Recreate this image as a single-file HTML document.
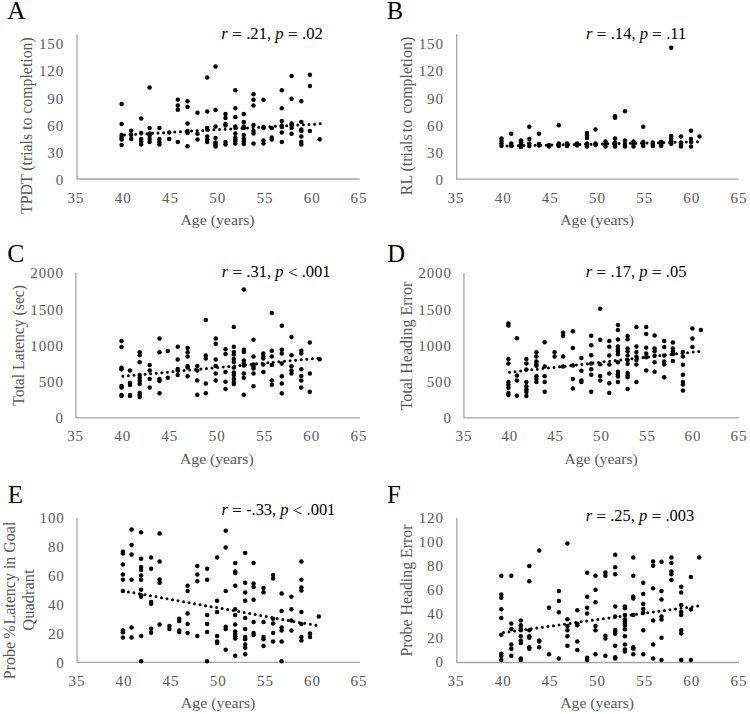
<!DOCTYPE html><html><head><meta charset="utf-8"><style>html,body{margin:0;padding:0;background:#fff;width:750px;height:714px;overflow:hidden}svg{display:block}text{font-family:"Liberation Serif",serif}</style></head><body>
<svg width="750" height="714" viewBox="0 0 750 714">
<rect width="750" height="714" fill="#fff"/>
<path d="M77.0 34.3V179.0H359.8" fill="none" stroke="#a6a6a6" stroke-width="1.3" stroke-linejoin="round"/>
<text id="Ay150" transform="translate(64.10,49.25) scale(1.0000,1)" font-size="15" fill="#595959" text-anchor="end"  letter-spacing="0.9">150</text>
<text id="Ay120" transform="translate(64.10,76.43) scale(1.0000,1)" font-size="15" fill="#595959" text-anchor="end"  letter-spacing="0.9">120</text>
<text id="Ay90" transform="translate(64.10,103.61) scale(1.0000,1)" font-size="15" fill="#595959" text-anchor="end"  letter-spacing="0.9">90</text>
<text id="Ay60" transform="translate(64.10,130.79) scale(1.0000,1)" font-size="15" fill="#595959" text-anchor="end"  letter-spacing="0.9">60</text>
<text id="Ay30" transform="translate(64.10,157.97) scale(1.0000,1)" font-size="15" fill="#595959" text-anchor="end"  letter-spacing="0.9">30</text>
<text id="Ay0" transform="translate(64.10,185.15) scale(1.0000,1)" font-size="15" fill="#595959" text-anchor="end"  letter-spacing="0.9">0</text>
<text id="Ax0" transform="translate(75.95,202.90) scale(1.0000,1)" font-size="15" fill="#595959" text-anchor="middle"  letter-spacing="0.9">35</text>
<text id="Ax1" transform="translate(123.25,202.90) scale(1.0000,1)" font-size="15" fill="#595959" text-anchor="middle"  letter-spacing="0.9">40</text>
<text id="Ax2" transform="translate(170.45,202.90) scale(1.0000,1)" font-size="15" fill="#595959" text-anchor="middle"  letter-spacing="0.9">45</text>
<text id="Ax3" transform="translate(217.65,202.90) scale(1.0000,1)" font-size="15" fill="#595959" text-anchor="middle"  letter-spacing="0.9">50</text>
<text id="Ax4" transform="translate(264.95,202.90) scale(1.0000,1)" font-size="15" fill="#595959" text-anchor="middle"  letter-spacing="0.9">55</text>
<text id="Ax5" transform="translate(312.15,202.90) scale(1.0000,1)" font-size="15" fill="#595959" text-anchor="middle"  letter-spacing="0.9">60</text>
<text id="Ax6" transform="translate(358.95,202.90) scale(1.0000,1)" font-size="15" fill="#595959" text-anchor="middle"  letter-spacing="0.9">65</text>
<text id="Axt" transform="translate(217.50,224.80) scale(1.0542,1)" font-size="15" fill="#595959" text-anchor="middle" >Age (years)</text>
<text id="Ayt0" transform="translate(31.80,125.60) rotate(-90) scale(0.9888,1)" font-size="16" fill="#595959" text-anchor="middle">TPDT (trials to completion)</text>
<text id="AL" transform="translate(16.45,18.80) scale(0.9941,1)" font-size="25.5" fill="#000" text-anchor="middle" >A</text>
<text id="Aann" transform="translate(272.05,38.90) scale(1.0162,1)" font-size="16.4" fill="#000" text-anchor="middle" ><tspan font-style="italic">r</tspan> <tspan font-size="17.5" dy="1.3">=</tspan><tspan dy="-1.3"> .21, </tspan><tspan font-style="italic">p</tspan> <tspan font-size="17.5" dy="1.3">=</tspan><tspan dy="-1.3"> .02</tspan></text>
<line x1="124.5" y1="134.9" x2="321.0" y2="123.8" stroke="#000" stroke-width="3" stroke-linecap="round" stroke-dasharray="0 5.6"/>
<g fill="#000"><circle cx="121.6" cy="104.1" r="2.25"/><circle cx="121.6" cy="124" r="2.25"/><circle cx="121.6" cy="135" r="2.25"/><circle cx="121.6" cy="137.5" r="2.25"/><circle cx="121.6" cy="139.5" r="2.25"/><circle cx="121.6" cy="145" r="2.25"/><circle cx="131.2" cy="130.8" r="2.25"/><circle cx="131.2" cy="135" r="2.25"/><circle cx="131.2" cy="139" r="2.25"/><circle cx="141.2" cy="118.5" r="2.25"/><circle cx="141.2" cy="133" r="2.25"/><circle cx="141.2" cy="139" r="2.25"/><circle cx="141.2" cy="141.5" r="2.25"/><circle cx="141.2" cy="144.5" r="2.25"/><circle cx="149.6" cy="87.4" r="2.25"/><circle cx="149.6" cy="128" r="2.25"/><circle cx="149.6" cy="133.5" r="2.25"/><circle cx="149.6" cy="135.5" r="2.25"/><circle cx="149.6" cy="139" r="2.25"/><circle cx="149.6" cy="142" r="2.25"/><circle cx="159.4" cy="128" r="2.25"/><circle cx="159.4" cy="139" r="2.25"/><circle cx="159.4" cy="142" r="2.25"/><circle cx="159.4" cy="144.5" r="2.25"/><circle cx="169.2" cy="132.5" r="2.25"/><circle cx="169.2" cy="139" r="2.25"/><circle cx="177.8" cy="99.8" r="2.25"/><circle cx="177.8" cy="105.6" r="2.25"/><circle cx="177.8" cy="109.7" r="2.25"/><circle cx="177.8" cy="142" r="2.25"/><circle cx="187.5" cy="101.3" r="2.25"/><circle cx="187.5" cy="107" r="2.25"/><circle cx="187.5" cy="123.5" r="2.25"/><circle cx="187.5" cy="131" r="2.25"/><circle cx="187.5" cy="133" r="2.25"/><circle cx="187.5" cy="146.2" r="2.25"/><circle cx="197.5" cy="112.8" r="2.25"/><circle cx="197.5" cy="133.8" r="2.25"/><circle cx="197.5" cy="139.5" r="2.25"/><circle cx="207.2" cy="77.5" r="2.25"/><circle cx="207.2" cy="111.5" r="2.25"/><circle cx="207.2" cy="128" r="2.25"/><circle cx="207.2" cy="129.5" r="2.25"/><circle cx="207.2" cy="136.5" r="2.25"/><circle cx="207.2" cy="139.5" r="2.25"/><circle cx="207.2" cy="142" r="2.25"/><circle cx="215.5" cy="66.4" r="2.25"/><circle cx="215.5" cy="110" r="2.25"/><circle cx="215.5" cy="126.5" r="2.25"/><circle cx="215.5" cy="138" r="2.25"/><circle cx="215.5" cy="142.5" r="2.25"/><circle cx="215.5" cy="144.5" r="2.25"/><circle cx="215.5" cy="146.5" r="2.25"/><circle cx="225.5" cy="114" r="2.25"/><circle cx="225.5" cy="118" r="2.25"/><circle cx="225.5" cy="124" r="2.25"/><circle cx="225.5" cy="125.5" r="2.25"/><circle cx="225.5" cy="142" r="2.25"/><circle cx="225.5" cy="144.5" r="2.25"/><circle cx="235.3" cy="90.2" r="2.25"/><circle cx="235.3" cy="108.3" r="2.25"/><circle cx="235.3" cy="117" r="2.25"/><circle cx="235.3" cy="126.5" r="2.25"/><circle cx="235.3" cy="128" r="2.25"/><circle cx="235.3" cy="133.5" r="2.25"/><circle cx="235.3" cy="137.5" r="2.25"/><circle cx="235.3" cy="139.5" r="2.25"/><circle cx="235.3" cy="141.5" r="2.25"/><circle cx="235.3" cy="143.5" r="2.25"/><circle cx="243.8" cy="114" r="2.25"/><circle cx="243.8" cy="122" r="2.25"/><circle cx="243.8" cy="126.5" r="2.25"/><circle cx="243.8" cy="128" r="2.25"/><circle cx="243.8" cy="135" r="2.25"/><circle cx="243.8" cy="139" r="2.25"/><circle cx="243.8" cy="141.5" r="2.25"/><circle cx="243.8" cy="144" r="2.25"/><circle cx="253.5" cy="94.3" r="2.25"/><circle cx="253.5" cy="99.8" r="2.25"/><circle cx="253.5" cy="105.6" r="2.25"/><circle cx="253.5" cy="125" r="2.25"/><circle cx="253.5" cy="131" r="2.25"/><circle cx="253.5" cy="133.5" r="2.25"/><circle cx="253.5" cy="143.5" r="2.25"/><circle cx="263.5" cy="99.8" r="2.25"/><circle cx="263.5" cy="127" r="2.25"/><circle cx="263.5" cy="128" r="2.25"/><circle cx="263.5" cy="140.5" r="2.25"/><circle cx="263.5" cy="143.5" r="2.25"/><circle cx="271.8" cy="128" r="2.25"/><circle cx="271.8" cy="137.5" r="2.25"/><circle cx="271.8" cy="139.5" r="2.25"/><circle cx="281.8" cy="90.2" r="2.25"/><circle cx="281.8" cy="108.3" r="2.25"/><circle cx="281.8" cy="121" r="2.25"/><circle cx="281.8" cy="125.5" r="2.25"/><circle cx="281.8" cy="127" r="2.25"/><circle cx="281.8" cy="132.5" r="2.25"/><circle cx="281.8" cy="142" r="2.25"/><circle cx="291.6" cy="76.1" r="2.25"/><circle cx="291.6" cy="98.7" r="2.25"/><circle cx="291.6" cy="123.5" r="2.25"/><circle cx="291.6" cy="125" r="2.25"/><circle cx="291.6" cy="128" r="2.25"/><circle cx="291.6" cy="133.8" r="2.25"/><circle cx="301.3" cy="101.3" r="2.25"/><circle cx="301.3" cy="122" r="2.25"/><circle cx="301.3" cy="129.5" r="2.25"/><circle cx="301.3" cy="131" r="2.25"/><circle cx="301.3" cy="136.5" r="2.25"/><circle cx="301.3" cy="142" r="2.25"/><circle cx="301.3" cy="144.5" r="2.25"/><circle cx="309.9" cy="74.8" r="2.25"/><circle cx="309.9" cy="85.9" r="2.25"/><circle cx="309.9" cy="131" r="2.25"/><circle cx="319.7" cy="139.3" r="2.25"/></g>
<path d="M456.7 34.3V179.2H738.9" fill="none" stroke="#a6a6a6" stroke-width="1.3" stroke-linejoin="round"/>
<text id="By150" transform="translate(443.90,49.25) scale(1.0000,1)" font-size="15" fill="#595959" text-anchor="end"  letter-spacing="0.9">150</text>
<text id="By120" transform="translate(443.90,76.43) scale(1.0000,1)" font-size="15" fill="#595959" text-anchor="end"  letter-spacing="0.9">120</text>
<text id="By90" transform="translate(443.90,103.61) scale(1.0000,1)" font-size="15" fill="#595959" text-anchor="end"  letter-spacing="0.9">90</text>
<text id="By60" transform="translate(443.90,130.79) scale(1.0000,1)" font-size="15" fill="#595959" text-anchor="end"  letter-spacing="0.9">60</text>
<text id="By30" transform="translate(443.90,157.97) scale(1.0000,1)" font-size="15" fill="#595959" text-anchor="end"  letter-spacing="0.9">30</text>
<text id="By0" transform="translate(443.90,185.15) scale(1.0000,1)" font-size="15" fill="#595959" text-anchor="end"  letter-spacing="0.9">0</text>
<text id="Bx0" transform="translate(455.95,202.90) scale(1.0000,1)" font-size="15" fill="#595959" text-anchor="middle"  letter-spacing="0.9">35</text>
<text id="Bx1" transform="translate(503.25,202.90) scale(1.0000,1)" font-size="15" fill="#595959" text-anchor="middle"  letter-spacing="0.9">40</text>
<text id="Bx2" transform="translate(550.15,202.90) scale(1.0000,1)" font-size="15" fill="#595959" text-anchor="middle"  letter-spacing="0.9">45</text>
<text id="Bx3" transform="translate(597.45,202.90) scale(1.0000,1)" font-size="15" fill="#595959" text-anchor="middle"  letter-spacing="0.9">50</text>
<text id="Bx4" transform="translate(644.75,202.90) scale(1.0000,1)" font-size="15" fill="#595959" text-anchor="middle"  letter-spacing="0.9">55</text>
<text id="Bx5" transform="translate(691.75,202.90) scale(1.0000,1)" font-size="15" fill="#595959" text-anchor="middle"  letter-spacing="0.9">60</text>
<text id="Bx6" transform="translate(738.95,202.90) scale(1.0000,1)" font-size="15" fill="#595959" text-anchor="middle"  letter-spacing="0.9">65</text>
<text id="Bxt" transform="translate(597.10,224.80) scale(1.0510,1)" font-size="15" fill="#595959" text-anchor="middle" >Age (years)</text>
<text id="Byt0" transform="translate(411.70,116.00) rotate(-90) scale(0.9976,1)" font-size="16" fill="#595959" text-anchor="middle">RL (trials <tspan dx="-2">to</tspan><tspan dx="2"> completion)</tspan></text>
<text id="BL" transform="translate(394.95,18.80) scale(0.9669,1)" font-size="25.5" fill="#000" text-anchor="middle" >B</text>
<text id="Bann" transform="translate(636.15,38.90) scale(1.0102,1)" font-size="16.4" fill="#000" text-anchor="middle" ><tspan font-style="italic">r</tspan> <tspan font-size="17.5" dy="1.3">=</tspan><tspan dy="-1.3"> .14, </tspan><tspan font-style="italic">p</tspan> <tspan font-size="17.5" dy="1.3">=</tspan><tspan dy="-1.3"> .11</tspan></text>
<line x1="501.5" y1="146.1" x2="700.5" y2="141.8" stroke="#000" stroke-width="3" stroke-linecap="round" stroke-dasharray="0 5.6"/>
<g fill="#000"><circle cx="501.5" cy="138.5" r="2.25"/><circle cx="501.5" cy="141" r="2.25"/><circle cx="501.5" cy="143.5" r="2.25"/><circle cx="501.5" cy="146" r="2.25"/><circle cx="511.2" cy="133.7" r="2.25"/><circle cx="511.2" cy="143.5" r="2.25"/><circle cx="511.2" cy="146" r="2.25"/><circle cx="521.0" cy="140.5" r="2.25"/><circle cx="521.0" cy="142.5" r="2.25"/><circle cx="521.0" cy="145" r="2.25"/><circle cx="521.0" cy="147" r="2.25"/><circle cx="529.3" cy="126.7" r="2.25"/><circle cx="529.3" cy="139" r="2.25"/><circle cx="529.3" cy="143.5" r="2.25"/><circle cx="529.3" cy="146" r="2.25"/><circle cx="539.0" cy="133.7" r="2.25"/><circle cx="539.0" cy="144" r="2.25"/><circle cx="539.0" cy="145.5" r="2.25"/><circle cx="549.0" cy="145" r="2.25"/><circle cx="549.0" cy="146.5" r="2.25"/><circle cx="558.8" cy="125.2" r="2.25"/><circle cx="558.8" cy="143.5" r="2.25"/><circle cx="558.8" cy="146" r="2.25"/><circle cx="567.0" cy="143.5" r="2.25"/><circle cx="567.0" cy="146" r="2.25"/><circle cx="577.0" cy="143.5" r="2.25"/><circle cx="577.0" cy="145.5" r="2.25"/><circle cx="587.0" cy="133" r="2.25"/><circle cx="587.0" cy="135.5" r="2.25"/><circle cx="587.0" cy="138" r="2.25"/><circle cx="587.0" cy="143.5" r="2.25"/><circle cx="587.0" cy="146.5" r="2.25"/><circle cx="595.5" cy="129.5" r="2.25"/><circle cx="595.5" cy="143.5" r="2.25"/><circle cx="595.5" cy="145" r="2.25"/><circle cx="605.5" cy="141.5" r="2.25"/><circle cx="605.5" cy="144" r="2.25"/><circle cx="605.5" cy="146.5" r="2.25"/><circle cx="615.0" cy="116.3" r="2.25"/><circle cx="615.0" cy="117.8" r="2.25"/><circle cx="615.0" cy="138.5" r="2.25"/><circle cx="615.0" cy="142.5" r="2.25"/><circle cx="615.0" cy="145" r="2.25"/><circle cx="615.0" cy="146.5" r="2.25"/><circle cx="625.0" cy="111.3" r="2.25"/><circle cx="625.0" cy="140.5" r="2.25"/><circle cx="625.0" cy="144" r="2.25"/><circle cx="625.0" cy="146.5" r="2.25"/><circle cx="633.5" cy="141.5" r="2.25"/><circle cx="633.5" cy="144" r="2.25"/><circle cx="633.5" cy="146.5" r="2.25"/><circle cx="643.2" cy="126.8" r="2.25"/><circle cx="643.2" cy="142" r="2.25"/><circle cx="643.2" cy="144" r="2.25"/><circle cx="643.2" cy="146" r="2.25"/><circle cx="652.8" cy="142.5" r="2.25"/><circle cx="652.8" cy="144" r="2.25"/><circle cx="652.8" cy="146" r="2.25"/><circle cx="661.2" cy="142" r="2.25"/><circle cx="661.2" cy="144" r="2.25"/><circle cx="661.2" cy="146" r="2.25"/><circle cx="671.2" cy="47.8" r="2.25"/><circle cx="671.2" cy="136" r="2.25"/><circle cx="671.2" cy="138.5" r="2.25"/><circle cx="671.2" cy="141.2" r="2.25"/><circle cx="671.2" cy="143.8" r="2.25"/><circle cx="681.0" cy="136.5" r="2.25"/><circle cx="681.0" cy="142.5" r="2.25"/><circle cx="681.0" cy="145" r="2.25"/><circle cx="681.0" cy="146.5" r="2.25"/><circle cx="691.0" cy="130.8" r="2.25"/><circle cx="691.0" cy="139" r="2.25"/><circle cx="691.0" cy="142" r="2.25"/><circle cx="691.0" cy="146.5" r="2.25"/><circle cx="699.5" cy="136.5" r="2.25"/></g>
<path d="M75.9 272.9V417.9H359.8" fill="none" stroke="#a6a6a6" stroke-width="1.3" stroke-linejoin="round"/>
<text id="Cy2000" transform="translate(63.90,278.25) scale(1.0000,1)" font-size="15" fill="#595959" text-anchor="end"  letter-spacing="0.9">2000</text>
<text id="Cy1500" transform="translate(63.90,314.50) scale(1.0000,1)" font-size="15" fill="#595959" text-anchor="end"  letter-spacing="0.9">1500</text>
<text id="Cy1000" transform="translate(63.90,350.75) scale(1.0000,1)" font-size="15" fill="#595959" text-anchor="end"  letter-spacing="0.9">1000</text>
<text id="Cy500" transform="translate(63.90,387.00) scale(1.0000,1)" font-size="15" fill="#595959" text-anchor="end"  letter-spacing="0.9">500</text>
<text id="Cy0" transform="translate(63.90,423.25) scale(1.0000,1)" font-size="15" fill="#595959" text-anchor="end"  letter-spacing="0.9">0</text>
<text id="Cx0" transform="translate(75.55,441.00) scale(1.0000,1)" font-size="15" fill="#595959" text-anchor="middle"  letter-spacing="0.9">35</text>
<text id="Cx1" transform="translate(122.65,441.00) scale(1.0000,1)" font-size="15" fill="#595959" text-anchor="middle"  letter-spacing="0.9">40</text>
<text id="Cx2" transform="translate(169.75,441.00) scale(1.0000,1)" font-size="15" fill="#595959" text-anchor="middle"  letter-spacing="0.9">45</text>
<text id="Cx3" transform="translate(217.25,441.00) scale(1.0000,1)" font-size="15" fill="#595959" text-anchor="middle"  letter-spacing="0.9">50</text>
<text id="Cx4" transform="translate(264.75,441.00) scale(1.0000,1)" font-size="15" fill="#595959" text-anchor="middle"  letter-spacing="0.9">55</text>
<text id="Cx5" transform="translate(311.75,441.00) scale(1.0000,1)" font-size="15" fill="#595959" text-anchor="middle"  letter-spacing="0.9">60</text>
<text id="Cx6" transform="translate(358.95,441.00) scale(1.0000,1)" font-size="15" fill="#595959" text-anchor="middle"  letter-spacing="0.9">65</text>
<text id="Cxt" transform="translate(216.80,463.70) scale(1.0465,1)" font-size="15" fill="#595959" text-anchor="middle" >Age (years)</text>
<text id="Cyt0" transform="translate(23.90,345.40) rotate(-90) scale(0.9812,1)" font-size="16" fill="#595959" text-anchor="middle">Total Latency (sec)</text>
<text id="CL" transform="translate(15.75,261.60) scale(1.0031,1)" font-size="25.5" fill="#000" text-anchor="middle" >C</text>
<text id="Cann" transform="translate(276.15,276.80) scale(1.0075,1)" font-size="16.4" fill="#000" text-anchor="middle" ><tspan font-style="italic">r</tspan> <tspan font-size="17.5" dy="1.3">=</tspan><tspan dy="-1.3"> .31, </tspan><tspan font-style="italic">p</tspan> <tspan font-size="17.5" dy="1.3">&lt;</tspan><tspan dy="-1.3"> .001</tspan></text>
<line x1="122.8" y1="376.3" x2="319.7" y2="358.0" stroke="#000" stroke-width="3" stroke-linecap="round" stroke-dasharray="0 5.6"/>
<g fill="#000"><circle cx="121.5" cy="340.9" r="2.25"/><circle cx="121.5" cy="346.9" r="2.25"/><circle cx="121.5" cy="367.8" r="2.25"/><circle cx="121.5" cy="369.2" r="2.25"/><circle cx="121.5" cy="386" r="2.25"/><circle cx="121.5" cy="387.5" r="2.25"/><circle cx="121.5" cy="395" r="2.25"/><circle cx="121.5" cy="396" r="2.25"/><circle cx="130.0" cy="370.5" r="2.25"/><circle cx="130.0" cy="383" r="2.25"/><circle cx="130.0" cy="385" r="2.25"/><circle cx="130.0" cy="395" r="2.25"/><circle cx="130.0" cy="396" r="2.25"/><circle cx="139.7" cy="352.2" r="2.25"/><circle cx="139.7" cy="355.3" r="2.25"/><circle cx="139.7" cy="362.2" r="2.25"/><circle cx="139.7" cy="375" r="2.25"/><circle cx="139.7" cy="378" r="2.25"/><circle cx="139.7" cy="381" r="2.25"/><circle cx="139.7" cy="384" r="2.25"/><circle cx="139.7" cy="393" r="2.25"/><circle cx="139.7" cy="395" r="2.25"/><circle cx="139.7" cy="397" r="2.25"/><circle cx="149.7" cy="365" r="2.25"/><circle cx="149.7" cy="370.5" r="2.25"/><circle cx="149.7" cy="379" r="2.25"/><circle cx="149.7" cy="387.5" r="2.25"/><circle cx="159.5" cy="338.4" r="2.25"/><circle cx="159.5" cy="352.3" r="2.25"/><circle cx="159.5" cy="379" r="2.25"/><circle cx="159.5" cy="381" r="2.25"/><circle cx="159.5" cy="393.2" r="2.25"/><circle cx="167.8" cy="351" r="2.25"/><circle cx="167.8" cy="377.8" r="2.25"/><circle cx="177.7" cy="346.7" r="2.25"/><circle cx="177.7" cy="359.4" r="2.25"/><circle cx="177.7" cy="369" r="2.25"/><circle cx="177.7" cy="370.5" r="2.25"/><circle cx="177.7" cy="375" r="2.25"/><circle cx="187.6" cy="348.1" r="2.25"/><circle cx="187.6" cy="352.3" r="2.25"/><circle cx="187.6" cy="356.5" r="2.25"/><circle cx="187.6" cy="366" r="2.25"/><circle cx="187.6" cy="367.5" r="2.25"/><circle cx="187.6" cy="376.2" r="2.25"/><circle cx="197.3" cy="366" r="2.25"/><circle cx="197.3" cy="370.5" r="2.25"/><circle cx="197.3" cy="380.5" r="2.25"/><circle cx="197.3" cy="394.8" r="2.25"/><circle cx="205.8" cy="320" r="2.25"/><circle cx="205.8" cy="355.5" r="2.25"/><circle cx="205.8" cy="358.5" r="2.25"/><circle cx="205.8" cy="383.5" r="2.25"/><circle cx="205.8" cy="393.2" r="2.25"/><circle cx="215.7" cy="338.4" r="2.25"/><circle cx="215.7" cy="343.8" r="2.25"/><circle cx="215.7" cy="359.5" r="2.25"/><circle cx="215.7" cy="366" r="2.25"/><circle cx="215.7" cy="373.5" r="2.25"/><circle cx="215.7" cy="380.5" r="2.25"/><circle cx="225.5" cy="349.3" r="2.25"/><circle cx="225.5" cy="353.9" r="2.25"/><circle cx="225.5" cy="372" r="2.25"/><circle cx="225.5" cy="381.8" r="2.25"/><circle cx="225.5" cy="389" r="2.25"/><circle cx="233.8" cy="327.1" r="2.25"/><circle cx="233.8" cy="346.7" r="2.25"/><circle cx="233.8" cy="352.1" r="2.25"/><circle cx="233.8" cy="354.4" r="2.25"/><circle cx="233.8" cy="359" r="2.25"/><circle cx="233.8" cy="362" r="2.25"/><circle cx="233.8" cy="367.5" r="2.25"/><circle cx="233.8" cy="372.5" r="2.25"/><circle cx="233.8" cy="375" r="2.25"/><circle cx="233.8" cy="379" r="2.25"/><circle cx="233.8" cy="382" r="2.25"/><circle cx="233.8" cy="384" r="2.25"/><circle cx="243.8" cy="289.4" r="2.25"/><circle cx="243.8" cy="349.8" r="2.25"/><circle cx="243.8" cy="352.1" r="2.25"/><circle cx="243.8" cy="360.5" r="2.25"/><circle cx="243.8" cy="363" r="2.25"/><circle cx="243.8" cy="365.5" r="2.25"/><circle cx="243.8" cy="373.5" r="2.25"/><circle cx="243.8" cy="377.8" r="2.25"/><circle cx="243.8" cy="394.8" r="2.25"/><circle cx="253.5" cy="339.8" r="2.25"/><circle cx="253.5" cy="356.5" r="2.25"/><circle cx="253.5" cy="364.5" r="2.25"/><circle cx="253.5" cy="366.5" r="2.25"/><circle cx="253.5" cy="368.5" r="2.25"/><circle cx="253.5" cy="373.5" r="2.25"/><circle cx="253.5" cy="386.2" r="2.25"/><circle cx="263.3" cy="353.6" r="2.25"/><circle cx="263.3" cy="356.6" r="2.25"/><circle cx="263.3" cy="358.5" r="2.25"/><circle cx="263.3" cy="364.5" r="2.25"/><circle cx="263.3" cy="372" r="2.25"/><circle cx="271.8" cy="313" r="2.25"/><circle cx="271.8" cy="350.8" r="2.25"/><circle cx="271.8" cy="356.6" r="2.25"/><circle cx="271.8" cy="365" r="2.25"/><circle cx="271.8" cy="380.5" r="2.25"/><circle cx="271.8" cy="384.8" r="2.25"/><circle cx="281.8" cy="325.7" r="2.25"/><circle cx="281.8" cy="349.8" r="2.25"/><circle cx="281.8" cy="353.6" r="2.25"/><circle cx="281.8" cy="363.5" r="2.25"/><circle cx="281.8" cy="376.2" r="2.25"/><circle cx="281.8" cy="383.5" r="2.25"/><circle cx="281.8" cy="393.2" r="2.25"/><circle cx="291.5" cy="337" r="2.25"/><circle cx="291.5" cy="355.3" r="2.25"/><circle cx="291.5" cy="366.2" r="2.25"/><circle cx="291.5" cy="370.5" r="2.25"/><circle cx="291.5" cy="373.5" r="2.25"/><circle cx="301.3" cy="350.8" r="2.25"/><circle cx="301.3" cy="353.6" r="2.25"/><circle cx="301.3" cy="369.3" r="2.25"/><circle cx="301.3" cy="376" r="2.25"/><circle cx="301.3" cy="380.5" r="2.25"/><circle cx="301.3" cy="387.5" r="2.25"/><circle cx="309.8" cy="342.4" r="2.25"/><circle cx="309.8" cy="373.5" r="2.25"/><circle cx="309.8" cy="391.8" r="2.25"/><circle cx="319.7" cy="359.2" r="2.25"/></g>
<path d="M463.9 272.9V417.9H739.0" fill="none" stroke="#a6a6a6" stroke-width="1.3" stroke-linejoin="round"/>
<text id="Dy2000" transform="translate(451.90,278.25) scale(1.0000,1)" font-size="15" fill="#595959" text-anchor="end"  letter-spacing="0.9">2000</text>
<text id="Dy1500" transform="translate(451.90,314.50) scale(1.0000,1)" font-size="15" fill="#595959" text-anchor="end"  letter-spacing="0.9">1500</text>
<text id="Dy1000" transform="translate(451.90,350.75) scale(1.0000,1)" font-size="15" fill="#595959" text-anchor="end"  letter-spacing="0.9">1000</text>
<text id="Dy500" transform="translate(451.90,387.00) scale(1.0000,1)" font-size="15" fill="#595959" text-anchor="end"  letter-spacing="0.9">500</text>
<text id="Dy0" transform="translate(451.90,423.25) scale(1.0000,1)" font-size="15" fill="#595959" text-anchor="end"  letter-spacing="0.9">0</text>
<text id="Dx0" transform="translate(463.95,441.00) scale(1.0000,1)" font-size="15" fill="#595959" text-anchor="middle"  letter-spacing="0.9">35</text>
<text id="Dx1" transform="translate(509.75,441.00) scale(1.0000,1)" font-size="15" fill="#595959" text-anchor="middle"  letter-spacing="0.9">40</text>
<text id="Dx2" transform="translate(555.45,441.00) scale(1.0000,1)" font-size="15" fill="#595959" text-anchor="middle"  letter-spacing="0.9">45</text>
<text id="Dx3" transform="translate(601.45,441.00) scale(1.0000,1)" font-size="15" fill="#595959" text-anchor="middle"  letter-spacing="0.9">50</text>
<text id="Dx4" transform="translate(647.45,441.00) scale(1.0000,1)" font-size="15" fill="#595959" text-anchor="middle"  letter-spacing="0.9">55</text>
<text id="Dx5" transform="translate(692.95,441.00) scale(1.0000,1)" font-size="15" fill="#595959" text-anchor="middle"  letter-spacing="0.9">60</text>
<text id="Dx6" transform="translate(738.95,441.00) scale(1.0000,1)" font-size="15" fill="#595959" text-anchor="middle"  letter-spacing="0.9">65</text>
<text id="Dxt" transform="translate(601.10,463.70) scale(1.0395,1)" font-size="15" fill="#595959" text-anchor="middle" >Age (years)</text>
<text id="Dyt0" transform="translate(412.00,346.10) rotate(-90) scale(1.0017,1)" font-size="16" fill="#595959" text-anchor="middle">Total Heading Error</text>
<text id="DL" transform="translate(396.00,261.60) scale(0.9635,1)" font-size="25.5" fill="#000" text-anchor="middle" >D</text>
<text id="Dann" transform="translate(636.10,276.80) scale(1.0062,1)" font-size="16.4" fill="#000" text-anchor="middle" ><tspan font-style="italic">r</tspan> <tspan font-size="17.5" dy="1.3">=</tspan><tspan dy="-1.3"> .17, </tspan><tspan font-style="italic">p</tspan> <tspan font-size="17.5" dy="1.3">=</tspan><tspan dy="-1.3"> .05</tspan></text>
<line x1="509.5" y1="372.3" x2="699.7" y2="351.3" stroke="#000" stroke-width="3" stroke-linecap="round" stroke-dasharray="0 5.6"/>
<g fill="#000"><circle cx="508.4" cy="323.5" r="2.25"/><circle cx="508.4" cy="325.5" r="2.25"/><circle cx="508.4" cy="359.1" r="2.25"/><circle cx="508.4" cy="363.5" r="2.25"/><circle cx="508.4" cy="381.9" r="2.25"/><circle cx="508.4" cy="384.8" r="2.25"/><circle cx="508.4" cy="387.7" r="2.25"/><circle cx="508.4" cy="392.9" r="2.25"/><circle cx="508.4" cy="395.1" r="2.25"/><circle cx="516.9" cy="338.2" r="2.25"/><circle cx="516.9" cy="375.6" r="2.25"/><circle cx="516.9" cy="380.4" r="2.25"/><circle cx="516.9" cy="395.8" r="2.25"/><circle cx="526.4" cy="359.1" r="2.25"/><circle cx="526.4" cy="363.5" r="2.25"/><circle cx="526.4" cy="369.4" r="2.25"/><circle cx="526.4" cy="381.9" r="2.25"/><circle cx="526.4" cy="386.3" r="2.25"/><circle cx="526.4" cy="389.2" r="2.25"/><circle cx="526.4" cy="392.1" r="2.25"/><circle cx="526.4" cy="396.1" r="2.25"/><circle cx="536.4" cy="352.2" r="2.25"/><circle cx="536.4" cy="356.6" r="2.25"/><circle cx="536.4" cy="361.6" r="2.25"/><circle cx="536.4" cy="364" r="2.25"/><circle cx="536.4" cy="365.7" r="2.25"/><circle cx="536.4" cy="376.3" r="2.25"/><circle cx="536.4" cy="378.9" r="2.25"/><circle cx="536.4" cy="381.9" r="2.25"/><circle cx="544.7" cy="342.3" r="2.25"/><circle cx="544.7" cy="366.5" r="2.25"/><circle cx="544.7" cy="376.3" r="2.25"/><circle cx="544.7" cy="381.9" r="2.25"/><circle cx="544.7" cy="391.7" r="2.25"/><circle cx="554.6" cy="352.2" r="2.25"/><circle cx="554.6" cy="356.6" r="2.25"/><circle cx="563.1" cy="332.7" r="2.25"/><circle cx="563.1" cy="335.7" r="2.25"/><circle cx="563.1" cy="356.6" r="2.25"/><circle cx="563.1" cy="366.5" r="2.25"/><circle cx="572.9" cy="331.3" r="2.25"/><circle cx="572.9" cy="348.1" r="2.25"/><circle cx="572.9" cy="365.4" r="2.25"/><circle cx="572.9" cy="378.9" r="2.25"/><circle cx="572.9" cy="388.6" r="2.25"/><circle cx="581.4" cy="358" r="2.25"/><circle cx="581.4" cy="370.7" r="2.25"/><circle cx="581.4" cy="380.4" r="2.25"/><circle cx="581.4" cy="381.9" r="2.25"/><circle cx="591.2" cy="335.7" r="2.25"/><circle cx="591.2" cy="345.2" r="2.25"/><circle cx="591.2" cy="355.2" r="2.25"/><circle cx="591.2" cy="363.5" r="2.25"/><circle cx="591.2" cy="369.3" r="2.25"/><circle cx="591.2" cy="374.8" r="2.25"/><circle cx="591.2" cy="391.7" r="2.25"/><circle cx="600.2" cy="308.8" r="2.25"/><circle cx="600.2" cy="339.7" r="2.25"/><circle cx="600.2" cy="364.3" r="2.25"/><circle cx="600.2" cy="376" r="2.25"/><circle cx="600.2" cy="380.4" r="2.25"/><circle cx="609.3" cy="341" r="2.25"/><circle cx="609.3" cy="346.8" r="2.25"/><circle cx="609.3" cy="355.4" r="2.25"/><circle cx="609.3" cy="364.5" r="2.25"/><circle cx="609.3" cy="373.5" r="2.25"/><circle cx="609.3" cy="383.2" r="2.25"/><circle cx="609.3" cy="393" r="2.25"/><circle cx="617.9" cy="324.9" r="2.25"/><circle cx="617.9" cy="330.1" r="2.25"/><circle cx="617.9" cy="339.6" r="2.25"/><circle cx="617.9" cy="346.6" r="2.25"/><circle cx="617.9" cy="349.1" r="2.25"/><circle cx="617.9" cy="351.6" r="2.25"/><circle cx="617.9" cy="354.3" r="2.25"/><circle cx="617.9" cy="362.3" r="2.25"/><circle cx="617.9" cy="371.8" r="2.25"/><circle cx="617.9" cy="374.5" r="2.25"/><circle cx="617.9" cy="376.5" r="2.25"/><circle cx="617.9" cy="382" r="2.25"/><circle cx="627.6" cy="335.9" r="2.25"/><circle cx="627.6" cy="339.3" r="2.25"/><circle cx="627.6" cy="348.4" r="2.25"/><circle cx="627.6" cy="351.3" r="2.25"/><circle cx="627.6" cy="355.4" r="2.25"/><circle cx="627.6" cy="360.1" r="2.25"/><circle cx="627.6" cy="363.8" r="2.25"/><circle cx="627.6" cy="372.9" r="2.25"/><circle cx="627.6" cy="375.4" r="2.25"/><circle cx="627.6" cy="377.2" r="2.25"/><circle cx="627.6" cy="389" r="2.25"/><circle cx="636.4" cy="327.1" r="2.25"/><circle cx="636.4" cy="346.6" r="2.25"/><circle cx="636.4" cy="352.1" r="2.25"/><circle cx="636.4" cy="356.5" r="2.25"/><circle cx="636.4" cy="360.1" r="2.25"/><circle cx="636.4" cy="364.5" r="2.25"/><circle cx="636.4" cy="382" r="2.25"/><circle cx="646.2" cy="327.1" r="2.25"/><circle cx="646.2" cy="334" r="2.25"/><circle cx="646.2" cy="347.7" r="2.25"/><circle cx="646.2" cy="353.5" r="2.25"/><circle cx="646.2" cy="357.2" r="2.25"/><circle cx="646.2" cy="370.5" r="2.25"/><circle cx="654.6" cy="335.5" r="2.25"/><circle cx="654.6" cy="348.4" r="2.25"/><circle cx="654.6" cy="351.3" r="2.25"/><circle cx="654.6" cy="355.7" r="2.25"/><circle cx="654.6" cy="362.3" r="2.25"/><circle cx="654.6" cy="371.8" r="2.25"/><circle cx="664.2" cy="341.1" r="2.25"/><circle cx="664.2" cy="346.9" r="2.25"/><circle cx="664.2" cy="355.4" r="2.25"/><circle cx="664.2" cy="361.6" r="2.25"/><circle cx="664.2" cy="364.5" r="2.25"/><circle cx="664.2" cy="377.3" r="2.25"/><circle cx="672.9" cy="342.5" r="2.25"/><circle cx="672.9" cy="348.4" r="2.25"/><circle cx="672.9" cy="351.3" r="2.25"/><circle cx="672.9" cy="354" r="2.25"/><circle cx="672.9" cy="360.9" r="2.25"/><circle cx="682.9" cy="352.1" r="2.25"/><circle cx="682.9" cy="356.5" r="2.25"/><circle cx="682.9" cy="364.8" r="2.25"/><circle cx="682.9" cy="374.7" r="2.25"/><circle cx="682.9" cy="382" r="2.25"/><circle cx="682.9" cy="384.6" r="2.25"/><circle cx="682.9" cy="390.5" r="2.25"/><circle cx="692.4" cy="328.6" r="2.25"/><circle cx="692.4" cy="338.4" r="2.25"/><circle cx="692.4" cy="346.9" r="2.25"/><circle cx="700.9" cy="330.1" r="2.25"/></g>
<path d="M77.0 517.7V662.3H359.8" fill="none" stroke="#a6a6a6" stroke-width="1.3" stroke-linejoin="round"/>
<text id="Ey100" transform="translate(64.70,523.45) scale(1.0000,1)" font-size="15" fill="#595959" text-anchor="end"  letter-spacing="0.9">100</text>
<text id="Ey80" transform="translate(64.70,552.35) scale(1.0000,1)" font-size="15" fill="#595959" text-anchor="end"  letter-spacing="0.9">80</text>
<text id="Ey60" transform="translate(64.70,581.25) scale(1.0000,1)" font-size="15" fill="#595959" text-anchor="end"  letter-spacing="0.9">60</text>
<text id="Ey40" transform="translate(64.70,610.15) scale(1.0000,1)" font-size="15" fill="#595959" text-anchor="end"  letter-spacing="0.9">40</text>
<text id="Ey20" transform="translate(64.70,639.05) scale(1.0000,1)" font-size="15" fill="#595959" text-anchor="end"  letter-spacing="0.9">20</text>
<text id="Ey0" transform="translate(64.70,667.95) scale(1.0000,1)" font-size="15" fill="#595959" text-anchor="end"  letter-spacing="0.9">0</text>
<text id="Ex0" transform="translate(76.95,686.00) scale(1.0000,1)" font-size="15" fill="#595959" text-anchor="middle"  letter-spacing="0.9">35</text>
<text id="Ex1" transform="translate(123.95,686.00) scale(1.0000,1)" font-size="15" fill="#595959" text-anchor="middle"  letter-spacing="0.9">40</text>
<text id="Ex2" transform="translate(170.95,686.00) scale(1.0000,1)" font-size="15" fill="#595959" text-anchor="middle"  letter-spacing="0.9">45</text>
<text id="Ex3" transform="translate(218.15,686.00) scale(1.0000,1)" font-size="15" fill="#595959" text-anchor="middle"  letter-spacing="0.9">50</text>
<text id="Ex4" transform="translate(265.45,686.00) scale(1.0000,1)" font-size="15" fill="#595959" text-anchor="middle"  letter-spacing="0.9">55</text>
<text id="Ex5" transform="translate(312.45,686.00) scale(1.0000,1)" font-size="15" fill="#595959" text-anchor="middle"  letter-spacing="0.9">60</text>
<text id="Ex6" transform="translate(358.95,686.00) scale(1.0000,1)" font-size="15" fill="#595959" text-anchor="middle"  letter-spacing="0.9">65</text>
<text id="Ext" transform="translate(218.00,708.00) scale(1.0576,1)" font-size="15" fill="#595959" text-anchor="middle" >Age (years)</text>
<text id="Eyt0" transform="translate(15.10,600.40) rotate(-90) scale(0.9994,1)" font-size="16" fill="#595959" text-anchor="middle">Probe <tspan dx="-0.8">%</tspan><tspan dx="0.8">Latency in Goal</tspan></text>
<text id="Eyt1" transform="translate(33.50,600.10) rotate(-90) scale(1.0277,1)" font-size="16" fill="#595959" text-anchor="middle">Quadrant</text>
<text id="EL" transform="translate(15.40,503.00) scale(0.9805,1)" font-size="25.5" fill="#000" text-anchor="middle" >E</text>
<text id="Eann" transform="translate(278.45,514.80) scale(1.0018,1)" font-size="16.4" fill="#000" text-anchor="middle" ><tspan font-style="italic">r</tspan> <tspan font-size="17.5" dy="1.3">=</tspan><tspan dy="-1.3"> -.33, </tspan><tspan font-style="italic">p</tspan> <tspan font-size="17.5" dy="1.3">&lt;</tspan><tspan dy="-1.3"> .001</tspan></text>
<line x1="122.9" y1="590.9" x2="318.5" y2="625.8" stroke="#000" stroke-width="3" stroke-linecap="round" stroke-dasharray="0 5.6"/>
<g fill="#000"><circle cx="122.9" cy="551.7" r="2.25"/><circle cx="122.9" cy="553.4" r="2.25"/><circle cx="122.9" cy="564.6" r="2.25"/><circle cx="122.9" cy="574.4" r="2.25"/><circle cx="122.9" cy="579.8" r="2.25"/><circle cx="122.9" cy="591" r="2.25"/><circle cx="122.9" cy="630.2" r="2.25"/><circle cx="122.9" cy="632.2" r="2.25"/><circle cx="122.9" cy="637.5" r="2.25"/><circle cx="131.6" cy="529.4" r="2.25"/><circle cx="131.6" cy="545.1" r="2.25"/><circle cx="131.6" cy="554.6" r="2.25"/><circle cx="131.6" cy="579.8" r="2.25"/><circle cx="131.6" cy="627.5" r="2.25"/><circle cx="131.6" cy="637.4" r="2.25"/><circle cx="141.1" cy="532.3" r="2.25"/><circle cx="141.1" cy="558.7" r="2.25"/><circle cx="141.1" cy="567.1" r="2.25"/><circle cx="141.1" cy="570" r="2.25"/><circle cx="141.1" cy="575.4" r="2.25"/><circle cx="141.1" cy="579.8" r="2.25"/><circle cx="141.1" cy="589.8" r="2.25"/><circle cx="141.1" cy="595.3" r="2.25"/><circle cx="141.1" cy="596.7" r="2.25"/><circle cx="141.1" cy="636" r="2.25"/><circle cx="141.1" cy="661.3" r="2.25"/><circle cx="151.1" cy="557.5" r="2.25"/><circle cx="151.1" cy="568.8" r="2.25"/><circle cx="151.1" cy="601.9" r="2.25"/><circle cx="151.1" cy="603.8" r="2.25"/><circle cx="151.1" cy="628.7" r="2.25"/><circle cx="151.1" cy="632.7" r="2.25"/><circle cx="159.6" cy="533.6" r="2.25"/><circle cx="159.6" cy="561.6" r="2.25"/><circle cx="159.6" cy="579.5" r="2.25"/><circle cx="159.6" cy="582.8" r="2.25"/><circle cx="159.6" cy="624.6" r="2.25"/><circle cx="169.4" cy="626.1" r="2.25"/><circle cx="169.4" cy="629" r="2.25"/><circle cx="179.2" cy="618.7" r="2.25"/><circle cx="179.2" cy="620.9" r="2.25"/><circle cx="179.2" cy="630.5" r="2.25"/><circle cx="179.2" cy="631.9" r="2.25"/><circle cx="187.6" cy="585.7" r="2.25"/><circle cx="187.6" cy="591.1" r="2.25"/><circle cx="187.6" cy="613.6" r="2.25"/><circle cx="187.6" cy="623.9" r="2.25"/><circle cx="187.6" cy="633.1" r="2.25"/><circle cx="197.3" cy="565.9" r="2.25"/><circle cx="197.3" cy="574.4" r="2.25"/><circle cx="197.3" cy="581.3" r="2.25"/><circle cx="197.3" cy="636" r="2.25"/><circle cx="207.1" cy="568.8" r="2.25"/><circle cx="207.1" cy="579.8" r="2.25"/><circle cx="207.1" cy="615.1" r="2.25"/><circle cx="207.1" cy="623.9" r="2.25"/><circle cx="207.1" cy="631.9" r="2.25"/><circle cx="207.1" cy="661.3" r="2.25"/><circle cx="217.1" cy="557.5" r="2.25"/><circle cx="217.1" cy="600.8" r="2.25"/><circle cx="217.1" cy="612.1" r="2.25"/><circle cx="217.1" cy="636" r="2.25"/><circle cx="217.1" cy="641.5" r="2.25"/><circle cx="217.1" cy="643" r="2.25"/><circle cx="225.7" cy="530.7" r="2.25"/><circle cx="225.7" cy="547.6" r="2.25"/><circle cx="225.7" cy="591.1" r="2.25"/><circle cx="225.7" cy="626.8" r="2.25"/><circle cx="225.7" cy="629" r="2.25"/><circle cx="225.7" cy="649.8" r="2.25"/><circle cx="235.2" cy="563" r="2.25"/><circle cx="235.2" cy="571.5" r="2.25"/><circle cx="235.2" cy="573" r="2.25"/><circle cx="235.2" cy="585.7" r="2.25"/><circle cx="235.2" cy="609.2" r="2.25"/><circle cx="235.2" cy="615.1" r="2.25"/><circle cx="235.2" cy="624.6" r="2.25"/><circle cx="235.2" cy="631.6" r="2.25"/><circle cx="235.2" cy="634.1" r="2.25"/><circle cx="235.2" cy="636.3" r="2.25"/><circle cx="235.2" cy="638.5" r="2.25"/><circle cx="235.2" cy="655.7" r="2.25"/><circle cx="245.2" cy="553.1" r="2.25"/><circle cx="245.2" cy="582.8" r="2.25"/><circle cx="245.2" cy="592.4" r="2.25"/><circle cx="245.2" cy="600.8" r="2.25"/><circle cx="245.2" cy="618" r="2.25"/><circle cx="245.2" cy="629" r="2.25"/><circle cx="245.2" cy="637.1" r="2.25"/><circle cx="245.2" cy="639.3" r="2.25"/><circle cx="245.2" cy="644.4" r="2.25"/><circle cx="245.2" cy="647.8" r="2.25"/><circle cx="245.2" cy="654.2" r="2.25"/><circle cx="253.6" cy="563" r="2.25"/><circle cx="253.6" cy="583.6" r="2.25"/><circle cx="253.6" cy="586.9" r="2.25"/><circle cx="253.6" cy="599.7" r="2.25"/><circle cx="253.6" cy="622" r="2.25"/><circle cx="253.6" cy="633.1" r="2.25"/><circle cx="253.6" cy="634.9" r="2.25"/><circle cx="263.5" cy="587.9" r="2.25"/><circle cx="263.5" cy="592.2" r="2.25"/><circle cx="263.5" cy="622" r="2.25"/><circle cx="263.5" cy="637.1" r="2.25"/><circle cx="263.5" cy="639.3" r="2.25"/><circle cx="263.5" cy="645.9" r="2.25"/><circle cx="273.1" cy="575.1" r="2.25"/><circle cx="273.1" cy="578.4" r="2.25"/><circle cx="273.1" cy="618.7" r="2.25"/><circle cx="273.1" cy="623.4" r="2.25"/><circle cx="273.1" cy="633.1" r="2.25"/><circle cx="273.1" cy="641.5" r="2.25"/><circle cx="281.6" cy="593.5" r="2.25"/><circle cx="281.6" cy="611.1" r="2.25"/><circle cx="281.6" cy="627.5" r="2.25"/><circle cx="281.6" cy="630.5" r="2.25"/><circle cx="281.6" cy="641.5" r="2.25"/><circle cx="281.6" cy="661.3" r="2.25"/><circle cx="291.4" cy="596.7" r="2.25"/><circle cx="291.4" cy="609.2" r="2.25"/><circle cx="291.4" cy="620.5" r="2.25"/><circle cx="291.4" cy="630.5" r="2.25"/><circle cx="301.4" cy="561.6" r="2.25"/><circle cx="301.4" cy="579.8" r="2.25"/><circle cx="301.4" cy="587.6" r="2.25"/><circle cx="301.4" cy="590.5" r="2.25"/><circle cx="301.4" cy="612.1" r="2.25"/><circle cx="301.4" cy="623.9" r="2.25"/><circle cx="301.4" cy="637.1" r="2.25"/><circle cx="301.4" cy="640.4" r="2.25"/><circle cx="310.0" cy="633.4" r="2.25"/><circle cx="310.0" cy="637.1" r="2.25"/><circle cx="318.8" cy="616.5" r="2.25"/></g>
<path d="M456.8 517.7V662.5H739.0" fill="none" stroke="#a6a6a6" stroke-width="1.3" stroke-linejoin="round"/>
<text id="Fy120" transform="translate(443.90,523.45) scale(1.0000,1)" font-size="15" fill="#595959" text-anchor="end"  letter-spacing="0.9">120</text>
<text id="Fy100" transform="translate(443.90,547.45) scale(1.0000,1)" font-size="15" fill="#595959" text-anchor="end"  letter-spacing="0.9">100</text>
<text id="Fy80" transform="translate(443.90,571.45) scale(1.0000,1)" font-size="15" fill="#595959" text-anchor="end"  letter-spacing="0.9">80</text>
<text id="Fy60" transform="translate(443.90,595.45) scale(1.0000,1)" font-size="15" fill="#595959" text-anchor="end"  letter-spacing="0.9">60</text>
<text id="Fy40" transform="translate(443.90,619.45) scale(1.0000,1)" font-size="15" fill="#595959" text-anchor="end"  letter-spacing="0.9">40</text>
<text id="Fy20" transform="translate(443.90,643.45) scale(1.0000,1)" font-size="15" fill="#595959" text-anchor="end"  letter-spacing="0.9">20</text>
<text id="Fy0" transform="translate(443.90,667.45) scale(1.0000,1)" font-size="15" fill="#595959" text-anchor="end"  letter-spacing="0.9">0</text>
<text id="Fx0" transform="translate(455.95,686.00) scale(1.0000,1)" font-size="15" fill="#595959" text-anchor="middle"  letter-spacing="0.9">35</text>
<text id="Fx1" transform="translate(503.25,686.00) scale(1.0000,1)" font-size="15" fill="#595959" text-anchor="middle"  letter-spacing="0.9">40</text>
<text id="Fx2" transform="translate(549.95,686.00) scale(1.0000,1)" font-size="15" fill="#595959" text-anchor="middle"  letter-spacing="0.9">45</text>
<text id="Fx3" transform="translate(597.45,686.00) scale(1.0000,1)" font-size="15" fill="#595959" text-anchor="middle"  letter-spacing="0.9">50</text>
<text id="Fx4" transform="translate(644.75,686.00) scale(1.0000,1)" font-size="15" fill="#595959" text-anchor="middle"  letter-spacing="0.9">55</text>
<text id="Fx5" transform="translate(691.75,686.00) scale(1.0000,1)" font-size="15" fill="#595959" text-anchor="middle"  letter-spacing="0.9">60</text>
<text id="Fx6" transform="translate(738.95,686.00) scale(1.0000,1)" font-size="15" fill="#595959" text-anchor="middle"  letter-spacing="0.9">65</text>
<text id="Fxt" transform="translate(597.10,708.00) scale(1.0510,1)" font-size="15" fill="#595959" text-anchor="middle" >Age (years)</text>
<text id="Fyt0" transform="translate(411.90,590.50) rotate(-90) scale(0.9910,1)" font-size="16" fill="#595959" text-anchor="middle">Probe Heading Error</text>
<text id="FL" transform="translate(394.00,503.00) scale(0.9506,1)" font-size="25.5" fill="#000" text-anchor="middle" >F</text>
<text id="Fann" transform="translate(639.95,521.00) scale(1.0037,1)" font-size="16.4" fill="#000" text-anchor="middle" ><tspan font-style="italic">r</tspan> <tspan font-size="17.5" dy="1.3">=</tspan><tspan dy="-1.3"> .25, </tspan><tspan font-style="italic">p</tspan> <tspan font-size="17.5" dy="1.3">=</tspan><tspan dy="-1.3"> .003</tspan></text>
<line x1="503.5" y1="632.5" x2="698.5" y2="605.8" stroke="#000" stroke-width="3" stroke-linecap="round" stroke-dasharray="0 5.6"/>
<g fill="#000"><circle cx="501.3" cy="575.8" r="2.25"/><circle cx="501.3" cy="594.5" r="2.25"/><circle cx="501.3" cy="597.8" r="2.25"/><circle cx="501.3" cy="609.2" r="2.25"/><circle cx="501.3" cy="617.9" r="2.25"/><circle cx="501.3" cy="634.7" r="2.25"/><circle cx="501.3" cy="653.8" r="2.25"/><circle cx="501.3" cy="656" r="2.25"/><circle cx="501.3" cy="660.1" r="2.25"/><circle cx="511.3" cy="575.8" r="2.25"/><circle cx="511.3" cy="623.4" r="2.25"/><circle cx="511.3" cy="628.9" r="2.25"/><circle cx="511.3" cy="644.6" r="2.25"/><circle cx="511.3" cy="648.7" r="2.25"/><circle cx="511.3" cy="655.7" r="2.25"/><circle cx="520.8" cy="620.5" r="2.25"/><circle cx="520.8" cy="625.2" r="2.25"/><circle cx="520.8" cy="628.4" r="2.25"/><circle cx="520.8" cy="630.3" r="2.25"/><circle cx="520.8" cy="636.2" r="2.25"/><circle cx="520.8" cy="640.6" r="2.25"/><circle cx="520.8" cy="643.1" r="2.25"/><circle cx="520.8" cy="658.6" r="2.25"/><circle cx="520.8" cy="660.1" r="2.25"/><circle cx="529.3" cy="565.9" r="2.25"/><circle cx="529.3" cy="581.3" r="2.25"/><circle cx="529.3" cy="630.3" r="2.25"/><circle cx="529.3" cy="636.2" r="2.25"/><circle cx="529.3" cy="637.7" r="2.25"/><circle cx="529.3" cy="647.2" r="2.25"/><circle cx="529.3" cy="648.7" r="2.25"/><circle cx="539.2" cy="550.5" r="2.25"/><circle cx="539.2" cy="640.6" r="2.25"/><circle cx="539.2" cy="641.5" r="2.25"/><circle cx="539.2" cy="647.2" r="2.25"/><circle cx="549.0" cy="607.8" r="2.25"/><circle cx="549.0" cy="654.2" r="2.25"/><circle cx="558.9" cy="590.9" r="2.25"/><circle cx="558.9" cy="601.1" r="2.25"/><circle cx="558.9" cy="612.3" r="2.25"/><circle cx="558.9" cy="658.6" r="2.25"/><circle cx="567.4" cy="543.5" r="2.25"/><circle cx="567.4" cy="619.3" r="2.25"/><circle cx="567.4" cy="625.9" r="2.25"/><circle cx="567.4" cy="630.3" r="2.25"/><circle cx="567.4" cy="636.2" r="2.25"/><circle cx="567.4" cy="645.7" r="2.25"/><circle cx="577.3" cy="610.3" r="2.25"/><circle cx="577.3" cy="623.7" r="2.25"/><circle cx="577.3" cy="625.2" r="2.25"/><circle cx="577.3" cy="641.6" r="2.25"/><circle cx="577.3" cy="650.1" r="2.25"/><circle cx="587.1" cy="572.8" r="2.25"/><circle cx="587.1" cy="596.7" r="2.25"/><circle cx="587.1" cy="607.8" r="2.25"/><circle cx="587.1" cy="613.5" r="2.25"/><circle cx="587.1" cy="657.8" r="2.25"/><circle cx="587.1" cy="660.1" r="2.25"/><circle cx="595.5" cy="575.7" r="2.25"/><circle cx="595.5" cy="589.8" r="2.25"/><circle cx="595.5" cy="602.3" r="2.25"/><circle cx="595.5" cy="625.9" r="2.25"/><circle cx="595.5" cy="630.3" r="2.25"/><circle cx="595.5" cy="654.2" r="2.25"/><circle cx="605.4" cy="572.5" r="2.25"/><circle cx="605.4" cy="575.7" r="2.25"/><circle cx="605.4" cy="635.8" r="2.25"/><circle cx="605.4" cy="638.4" r="2.25"/><circle cx="605.4" cy="655.7" r="2.25"/><circle cx="615.2" cy="554.8" r="2.25"/><circle cx="615.2" cy="567.2" r="2.25"/><circle cx="615.2" cy="574.3" r="2.25"/><circle cx="615.2" cy="606.4" r="2.25"/><circle cx="615.2" cy="616.4" r="2.25"/><circle cx="615.2" cy="629.9" r="2.25"/><circle cx="615.2" cy="631.8" r="2.25"/><circle cx="615.2" cy="633.7" r="2.25"/><circle cx="615.2" cy="645.7" r="2.25"/><circle cx="615.2" cy="657.2" r="2.25"/><circle cx="615.2" cy="658.6" r="2.25"/><circle cx="624.9" cy="606.4" r="2.25"/><circle cx="624.9" cy="608.3" r="2.25"/><circle cx="624.9" cy="614.9" r="2.25"/><circle cx="624.9" cy="619.3" r="2.25"/><circle cx="624.9" cy="621.5" r="2.25"/><circle cx="624.9" cy="623.7" r="2.25"/><circle cx="624.9" cy="625.5" r="2.25"/><circle cx="624.9" cy="629.3" r="2.25"/><circle cx="624.9" cy="636.2" r="2.25"/><circle cx="624.9" cy="644.6" r="2.25"/><circle cx="624.9" cy="649.4" r="2.25"/><circle cx="624.9" cy="651.6" r="2.25"/><circle cx="633.3" cy="557.4" r="2.25"/><circle cx="633.3" cy="575.7" r="2.25"/><circle cx="633.3" cy="596.6" r="2.25"/><circle cx="633.3" cy="598.5" r="2.25"/><circle cx="633.3" cy="614.9" r="2.25"/><circle cx="633.3" cy="647.2" r="2.25"/><circle cx="633.3" cy="648.7" r="2.25"/><circle cx="633.3" cy="654.2" r="2.25"/><circle cx="643.2" cy="582.8" r="2.25"/><circle cx="643.2" cy="594" r="2.25"/><circle cx="643.2" cy="603.9" r="2.25"/><circle cx="643.2" cy="609.1" r="2.25"/><circle cx="643.2" cy="612.7" r="2.25"/><circle cx="643.2" cy="630.3" r="2.25"/><circle cx="643.2" cy="654.2" r="2.25"/><circle cx="653.1" cy="561.4" r="2.25"/><circle cx="653.1" cy="565.8" r="2.25"/><circle cx="653.1" cy="588.2" r="2.25"/><circle cx="653.1" cy="620.6" r="2.25"/><circle cx="653.1" cy="644.6" r="2.25"/><circle cx="653.1" cy="658.6" r="2.25"/><circle cx="661.5" cy="561.8" r="2.25"/><circle cx="661.5" cy="591.1" r="2.25"/><circle cx="661.5" cy="599.5" r="2.25"/><circle cx="661.5" cy="616.5" r="2.25"/><circle cx="661.5" cy="619.5" r="2.25"/><circle cx="661.5" cy="637.7" r="2.25"/><circle cx="661.5" cy="660" r="2.25"/><circle cx="671.4" cy="557.5" r="2.25"/><circle cx="671.4" cy="563.1" r="2.25"/><circle cx="671.4" cy="571.5" r="2.25"/><circle cx="671.4" cy="574.2" r="2.25"/><circle cx="671.4" cy="579.9" r="2.25"/><circle cx="681.2" cy="586.8" r="2.25"/><circle cx="681.2" cy="592.6" r="2.25"/><circle cx="681.2" cy="604.9" r="2.25"/><circle cx="681.2" cy="611.9" r="2.25"/><circle cx="681.2" cy="615.1" r="2.25"/><circle cx="681.2" cy="630.3" r="2.25"/><circle cx="681.2" cy="633.5" r="2.25"/><circle cx="681.2" cy="660" r="2.25"/><circle cx="690.9" cy="577" r="2.25"/><circle cx="690.9" cy="609.4" r="2.25"/><circle cx="690.9" cy="660" r="2.25"/><circle cx="699.2" cy="557.4" r="2.25"/></g>
</svg></body></html>
